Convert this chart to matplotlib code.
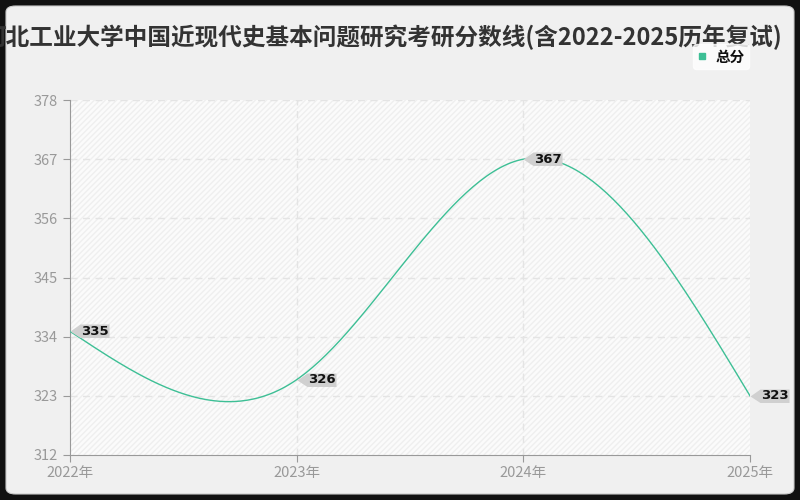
import numpy as np
import matplotlib.pyplot as plt
from matplotlib.patches import FancyBboxPatch, Rectangle
from matplotlib.path import Path

plt.rcParams['font.family'] = ['Noto Sans CJK SC', 'DejaVu Sans']

# data
years = ['2022年', '2023年', '2024年', '2025年']
scores = [335, 326, 367, 323]
y_ticks = [312, 323, 334, 345, 356, 367, 378]
title = '河北工业大学中国近现代史基本问题研究考研分数线(含2022-2025历年复试)'
series_name = '总分'

line_color = '#3dbf95'


def natural_spline(xs, ys, n=200):
    # natural cubic spline, only used to draw the smooth line
    xs = np.asarray(xs, float)
    ys = np.asarray(ys, float)
    k = len(xs)
    h = np.diff(xs)
    A = np.zeros((k, k))
    b = np.zeros(k)
    A[0, 0] = A[-1, -1] = 1
    for i in range(1, k - 1):
        A[i, i - 1] = h[i - 1]
        A[i, i] = 2 * (h[i - 1] + h[i])
        A[i, i + 1] = h[i]
        b[i] = 6 * ((ys[i + 1] - ys[i]) / h[i] - (ys[i] - ys[i - 1]) / h[i - 1])
    M = np.linalg.solve(A, b)
    xx = np.linspace(xs[0], xs[-1], n)
    yy = np.empty_like(xx)
    for j, x in enumerate(xx):
        i = min(np.searchsorted(xs, x, side='right') - 1, k - 2)
        t0 = xs[i + 1] - x
        t1 = x - xs[i]
        hi = h[i]
        yy[j] = (M[i] * t0 ** 3 / (6 * hi) + M[i + 1] * t1 ** 3 / (6 * hi)
                 + (ys[i] / hi - M[i] * hi / 6) * t0
                 + (ys[i + 1] / hi - M[i + 1] * hi / 6) * t1)
    return xx, yy


fig = plt.figure(figsize=(8, 5), dpi=100)
fig.patch.set_facecolor('#111111')

# rounded light panel behind everything
panel = FancyBboxPatch((6 / 800, 6 / 500), 788 / 800, 488 / 500,
                       boxstyle='round,pad=0,rounding_size=0.012',
                       transform=fig.transFigure, facecolor='#f0f0f0',
                       edgecolor='#cccccc', linewidth=0.8, zorder=-10)
fig.patches.append(panel)

ax = fig.add_axes([70 / 800, 45 / 500, 680 / 800, 355 / 500])
ax.set_facecolor('#fbfbfb')
ax.add_patch(Rectangle((0, 0), 1, 1, transform=ax.transAxes, facecolor='none',
                       edgecolor='#efefef', hatch='//////', linewidth=0, zorder=0))

x = np.arange(len(years))
xx, yy = natural_spline(x, scores)
ax.plot(xx, yy, color=line_color, linewidth=1, zorder=3)

ax.set_xlim(0, len(years) - 1)
ax.set_ylim(y_ticks[0], y_ticks[-1])
ax.set_xticks(x)
ax.set_xticklabels(years)
ax.set_yticks(y_ticks)

for yt in y_ticks[1:]:
    ax.axhline(yt, color='#e4e4e4', linestyle=(0, (5, 4)), linewidth=1, zorder=1)
for xt in x[1:-1]:
    ax.axvline(xt, color='#e4e4e4', linestyle=(0, (5, 4)), linewidth=1, zorder=1)

for side in ['top', 'right']:
    ax.spines[side].set_visible(False)
for side in ['left', 'bottom']:
    ax.spines[side].set_color('#999999')
ax.tick_params(colors='#999999', labelcolor='#999999', labelsize=10.5, length=5)
ax.tick_params(axis='x', pad=3)

# callout label shape: tip at the point, box to the right (pixel units)
callout = Path([(0, 0), (10, 7), (39, 7), (39, -6.5), (10, -6.5), (0, 0)],
               [Path.MOVETO] + [Path.LINETO] * 4 + [Path.CLOSEPOLY])
callout_ms = 2 * 39 * 0.72

for xi, v in zip(x, scores):
    ax.plot(xi, v, marker=callout, markersize=callout_ms, color='#d0d0d0',
            markeredgewidth=0, clip_on=False, zorder=4)
    ax.annotate(str(v), (xi, v), xytext=(25 * 0.72, 0), textcoords='offset points',
                ha='center', va='center', fontsize=9.5, fontweight='bold',
                family='DejaVu Sans', color='#111111', zorder=5,
                annotation_clip=False)

# title, running past the panel's left edge
fig.text(782 / 800, 1 - 37 / 500, title, ha='right', va='center',
         fontsize=17, fontweight='bold', color='#333333')

# legend
h = plt.Line2D([], [], marker='s', color=line_color, linestyle='none', markersize=4)
leg = fig.legend([h], [series_name], loc='center', bbox_to_anchor=(721 / 800, 1 - 56.5 / 500),
                 frameon=True, fontsize=10.5, handlelength=0.6, handletextpad=0.6,
                 borderpad=0.3, fancybox=True)
leg.get_frame().set_facecolor('white')
leg.get_frame().set_edgecolor('white')
leg.get_texts()[0].set_color('#111111')
leg.get_texts()[0].set_fontweight('bold')

fig.savefig('out.png', dpi=100, facecolor=fig.get_facecolor())
